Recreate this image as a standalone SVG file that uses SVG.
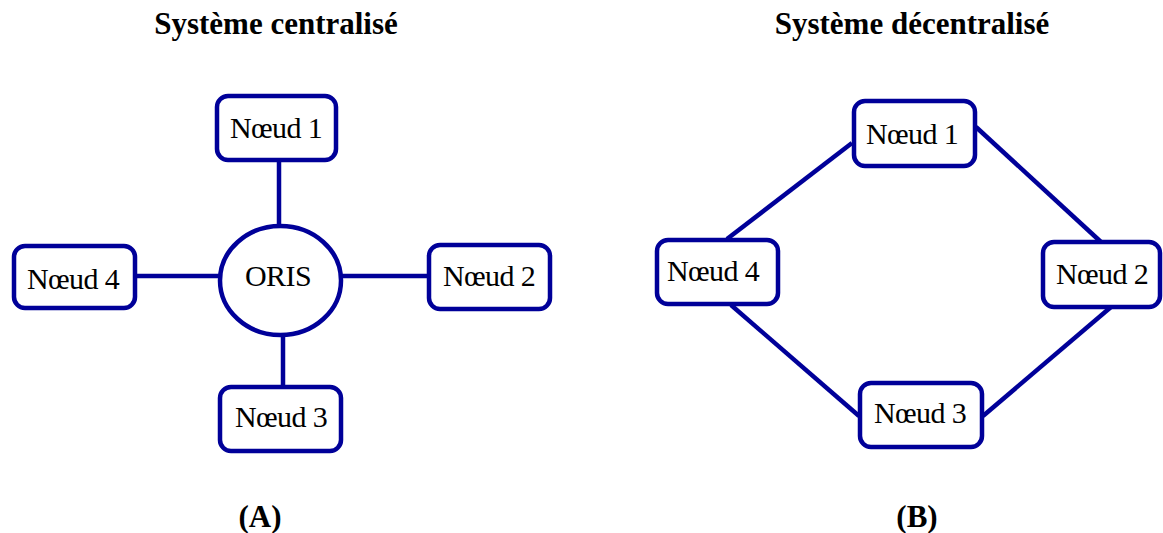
<svg xmlns="http://www.w3.org/2000/svg" width="1163" height="533" viewBox="0 0 1163 533">
  <style>
    .box { fill: #ffffff; stroke: #000099; stroke-width: 4.5; }
    .link { stroke: #000099; stroke-width: 4.5; fill: none; stroke-linecap: butt; }
    .lbl { font-family: 'Liberation Serif', 'DejaVu Serif', serif; font-size: 30px; fill: #000000; text-anchor: middle; letter-spacing: -0.6px; }
    .title { font-family: 'Liberation Serif', 'DejaVu Serif', serif; font-size: 31px; font-weight: bold; fill: #000000; text-anchor: middle; }
  </style>
  <rect width="1163" height="533" fill="#ffffff"/>

  <!-- titles -->
  <text class="title" x="276" y="34">Système centralisé</text>
  <text class="title" x="912" y="34">Système décentralisé</text>
  <text class="title" x="260" y="527">(A)</text>
  <text class="title" x="917" y="527">(B)</text>

  <!-- connectors -->
  <g id="connectors">
    <line class="link" x1="279" y1="160" x2="279" y2="226"/>
    <line class="link" x1="135" y1="276" x2="220" y2="276"/>
    <line class="link" x1="341" y1="276" x2="429" y2="276"/>
    <line class="link" x1="283" y1="335" x2="283" y2="387"/>
    <line class="link" x1="727" y1="239" x2="852" y2="143"/>
    <line class="link" x1="976" y1="127" x2="1101" y2="242"/>
    <line class="link" x1="731" y1="305" x2="859" y2="416"/>
    <line class="link" x1="983" y1="416" x2="1111" y2="307"/>
  </g>

  <!-- centralised system -->
  <g id="a-node1">
    <rect class="box" x="217" y="96" width="119" height="64" rx="11"/>
    <text class="lbl" x="276" y="138">Nœud 1</text>
  </g>
  <g id="a-node2">
    <rect class="box" x="429" y="245" width="121" height="64" rx="11"/>
    <text class="lbl" x="489" y="286">Nœud 2</text>
  </g>
  <g id="a-node3">
    <rect class="box" x="220" y="387" width="121" height="64" rx="11"/>
    <text class="lbl" x="281" y="427">Nœud 3</text>
  </g>
  <g id="a-node4">
    <rect class="box" x="14" y="246" width="121" height="62" rx="11"/>
    <text class="lbl" x="73" y="289">Nœud 4</text>
  </g>
  <g id="a-oris">
    <ellipse class="box" cx="280.5" cy="280.5" rx="60.5" ry="54.5"/>
    <text class="lbl" x="278" y="286">ORIS</text>
  </g>

  <!-- decentralised system -->
  <g id="b-node1">
    <rect class="box" x="854" y="101" width="121" height="65" rx="11"/>
    <text class="lbl" x="912" y="144">Nœud 1</text>
  </g>
  <g id="b-node2">
    <rect class="box" x="1043" y="242" width="117" height="65" rx="11"/>
    <text class="lbl" x="1102" y="284">Nœud 2</text>
  </g>
  <g id="b-node3">
    <rect class="box" x="860" y="383" width="122" height="64" rx="11"/>
    <text class="lbl" x="920" y="423">Nœud 3</text>
  </g>
  <g id="b-node4">
    <rect class="box" x="657" y="240" width="121" height="64" rx="11"/>
    <text class="lbl" x="713" y="281">Nœud 4</text>
  </g>
</svg>
